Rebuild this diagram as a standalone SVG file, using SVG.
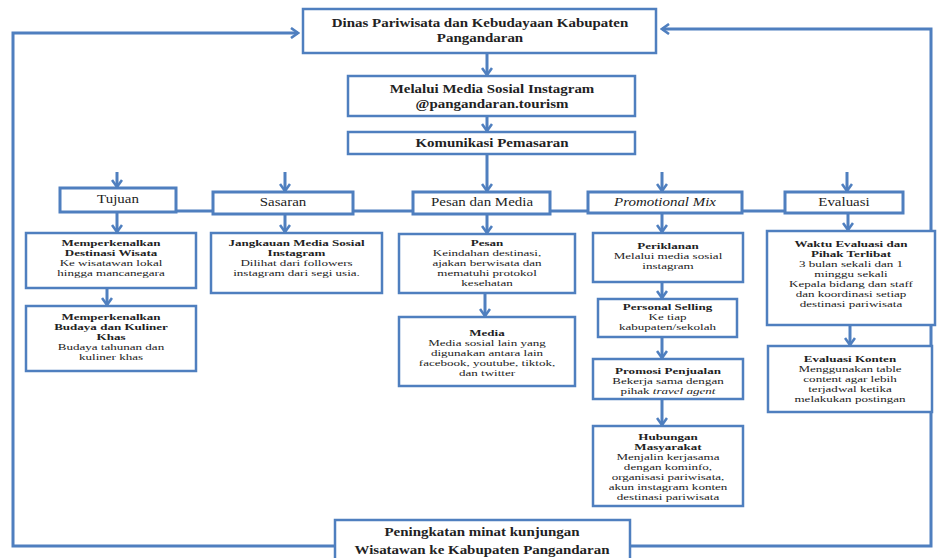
<svg xmlns="http://www.w3.org/2000/svg" width="940" height="558" viewBox="0 0 940 558">
<defs>
<style>
.box{fill:#fff;stroke:#4f7fbf;stroke-width:2.5}
.cat{fill:#fff;stroke:#4f7fbf;stroke-width:3}
.conn{fill:none;stroke:#4f7fbf;stroke-width:3}
text{font-family:"Liberation Serif","Times New Roman",serif;text-anchor:middle;fill:#222}
.b{font-weight:bold}
.i{font-style:italic}
.s9{font-size:9px}
.s11{font-size:11.5px}
</style>
<marker id="arr" markerUnits="userSpaceOnUse" markerWidth="12" markerHeight="12" viewBox="0 0 12 12" refX="10" refY="6" orient="auto">
<path d="M3,1 L10,6 L3,11" fill="none" stroke="#4f7fbf" stroke-width="2.6"/>
</marker>
</defs>
<rect width="940" height="558" fill="#fff"/>

<g id="connectors">
<path class="conn" d="M335,546 H13 V33 H298" marker-end="url(#arr)"/>
<path class="conn" d="M630,546 H931 V29 H662" marker-end="url(#arr)"/>
<path class="conn" d="M487,53 V75" marker-end="url(#arr)"/>
<path class="conn" d="M487,116 V131" marker-end="url(#arr)"/>
<path class="conn" d="M487,154 V191" marker-end="url(#arr)"/>
<path class="conn" d="M117,172 V187" marker-end="url(#arr)"/>
<path class="conn" d="M285,172 V191" marker-end="url(#arr)"/>
<path class="conn" d="M662,172 V191" marker-end="url(#arr)"/>
<path class="conn" d="M847,172 V191" marker-end="url(#arr)"/>
<path class="conn" d="M176,211 H785"/>
<path class="conn" d="M117,212 V232" marker-end="url(#arr)"/>
<path class="conn" d="M285,214 V232" marker-end="url(#arr)"/>
<path class="conn" d="M487,214 V233" marker-end="url(#arr)"/>
<path class="conn" d="M662,213 V232" marker-end="url(#arr)"/>
<path class="conn" d="M848,213 V230" marker-end="url(#arr)"/>
<path class="conn" d="M107,288 V305" marker-end="url(#arr)"/>
<path class="conn" d="M485,293 V316" marker-end="url(#arr)"/>
<path class="conn" d="M662,282 V298" marker-end="url(#arr)"/>
<path class="conn" d="M662,337 V358" marker-end="url(#arr)"/>
<path class="conn" d="M662,399 V425" marker-end="url(#arr)"/>
<path class="conn" d="M850,325 V345" marker-end="url(#arr)"/>
</g>

<g id="dinas">
<rect class="box" x="303" y="9" width="353" height="44"/>
<g transform="translate(480,0) scale(1.3,1)">
<text class="b s11" x="0" y="27">Dinas Pariwisata dan Kebudayaan Kabupaten</text>
<text class="b s11" x="0" y="42">Pangandaran</text>
</g>
</g>

<g id="instagram">
<rect class="box" x="348" y="76" width="287" height="40"/>
<g transform="translate(492,0) scale(1.3,1)">
<text class="b s11" x="0" y="93">Melalui Media Sosial Instagram</text>
<text class="b s11" x="0" y="108">@pangandaran.tourism</text>
</g>
</g>

<g id="komunikasi">
<rect class="box" x="348" y="132" width="287" height="22"/>
<g transform="translate(492,0) scale(1.3,1)">
<text class="b s11" x="0" y="147">Komunikasi Pemasaran</text>
</g>
</g>

<g id="tujuan">
<rect class="cat" x="60" y="188" width="116" height="24"/>
<g transform="translate(118,0) scale(1.3,1)"><text class="s11" x="0" y="203">Tujuan</text></g>
</g>

<g id="sasaran">
<rect class="cat" x="213" y="192" width="140" height="22"/>
<g transform="translate(283,0) scale(1.3,1)"><text class="s11" x="0" y="206">Sasaran</text></g>
</g>

<g id="pesan-dan-media">
<rect class="cat" x="413" y="192" width="137" height="22"/>
<g transform="translate(482,0) scale(1.3,1)"><text class="s11" x="0" y="206">Pesan dan Media</text></g>
</g>

<g id="promotional-mix">
<rect class="cat" x="588" y="192" width="154" height="21"/>
<g transform="translate(665,0) scale(1.3,1)"><text class="s11 i" x="0" y="206">Promotional Mix</text></g>
</g>

<g id="evaluasi">
<rect class="cat" x="785" y="192" width="118" height="21"/>
<g transform="translate(844,0) scale(1.3,1)"><text class="s11" x="0" y="206">Evaluasi</text></g>
</g>

<g id="destinasi">
<rect class="box" x="26" y="233" width="170" height="55"/>
<g transform="translate(111,0) scale(1.45,1)">
<text class="b s9" x="0" y="246">Memperkenalkan</text>
<text class="b s9" x="0" y="256">Destinasi Wisata</text>
<text class="s9" x="0" y="266">Ke wisatawan lokal</text>
<text class="s9" x="0" y="276">hingga mancanegara</text>
</g>
</g>

<g id="budaya">
<rect class="box" x="26" y="306" width="170" height="65"/>
<g transform="translate(111,0) scale(1.45,1)">
<text class="b s9" x="0" y="320">Memperkenalkan</text>
<text class="b s9" x="0" y="330">Budaya dan Kuliner</text>
<text class="b s9" x="0" y="340">Khas</text>
<text class="s9" x="0" y="350">Budaya tahunan dan</text>
<text class="s9" x="0" y="360">kuliner khas</text>
</g>
</g>

<g id="jangkauan">
<rect class="box" x="211" y="233" width="171" height="60"/>
<g transform="translate(296.5,0) scale(1.45,1)">
<text class="b s9" x="0" y="246.5">Jangkauan Media Sosial</text>
<text class="b s9" x="0" y="256.5">Instagram</text>
<text class="s9" x="0" y="266.5">Dilihat dari followers</text>
<text class="s9" x="0" y="276.5">instagram dari segi usia.</text>
</g>
</g>

<g id="pesan">
<rect class="box" x="399" y="234" width="176" height="59"/>
<g transform="translate(487,0) scale(1.45,1)">
<text class="b s9" x="0" y="246.5">Pesan</text>
<text class="s9" x="0" y="256.5">Keindahan destinasi,</text>
<text class="s9" x="0" y="266.5">ajakan berwisata dan</text>
<text class="s9" x="0" y="276.5">mematuhi protokol</text>
<text class="s9" x="0" y="286.5">kesehatan</text>
</g>
</g>

<g id="media">
<rect class="box" x="399" y="317" width="176" height="69"/>
<g transform="translate(487,0) scale(1.45,1)">
<text class="b s9" x="0" y="336">Media</text>
<text class="s9" x="0" y="346">Media sosial lain yang</text>
<text class="s9" x="0" y="356">digunakan antara lain</text>
<text class="s9" x="0" y="366">facebook, youtube, tiktok,</text>
<text class="s9" x="0" y="376">dan twitter</text>
</g>
</g>

<g id="periklanan">
<rect class="box" x="593" y="233" width="150" height="49"/>
<g transform="translate(668,0) scale(1.45,1)">
<text class="b s9" x="0" y="249">Periklanan</text>
<text class="s9" x="0" y="259">Melalui media sosial</text>
<text class="s9" x="0" y="269">instagram</text>
</g>
</g>

<g id="personal-selling">
<rect class="box" x="598" y="299" width="139" height="38"/>
<g transform="translate(667.5,0) scale(1.45,1)">
<text class="b s9" x="0" y="310">Personal Selling</text>
<text class="s9" x="0" y="320">Ke tiap</text>
<text class="s9" x="0" y="330">kabupaten/sekolah</text>
</g>
</g>

<g id="promosi-penjualan">
<rect class="box" x="593" y="359" width="150" height="40"/>
<g transform="translate(668,0) scale(1.45,1)">
<text class="b s9" x="0" y="374">Promosi Penjualan</text>
<text class="s9" x="0" y="384">Bekerja sama dengan</text>
<text class="s9" x="0" y="394">pihak <tspan class="i">travel agent</tspan></text>
</g>
</g>

<g id="hubungan-masyarakat">
<rect class="box" x="593" y="426" width="150" height="80"/>
<g transform="translate(668,0) scale(1.45,1)">
<text class="b s9" x="0" y="440">Hubungan</text>
<text class="b s9" x="0" y="450">Masyarakat</text>
<text class="s9" x="0" y="460">Menjalin kerjasama</text>
<text class="s9" x="0" y="470">dengan kominfo,</text>
<text class="s9" x="0" y="480">organisasi pariwisata,</text>
<text class="s9" x="0" y="490">akun instagram konten</text>
<text class="s9" x="0" y="500">destinasi pariwisata</text>
</g>
</g>

<g id="waktu-evaluasi">
<rect class="box" x="767" y="231" width="168" height="94"/>
<g transform="translate(851,0) scale(1.45,1)">
<text class="b s9" x="0" y="247">Waktu Evaluasi dan</text>
<text class="b s9" x="0" y="257">Pihak Terlibat</text>
<text class="s9" x="0" y="267">3 bulan sekali dan 1</text>
<text class="s9" x="0" y="277">minggu sekali</text>
<text class="s9" x="0" y="287">Kepala bidang dan staff</text>
<text class="s9" x="0" y="297">dan koordinasi setiap</text>
<text class="s9" x="0" y="307">destinasi pariwisata</text>
</g>
</g>

<g id="evaluasi-konten">
<rect class="box" x="768" y="346" width="164" height="66"/>
<g transform="translate(850,0) scale(1.45,1)">
<text class="b s9" x="0" y="362">Evaluasi Konten</text>
<text class="s9" x="0" y="372">Menggunakan table</text>
<text class="s9" x="0" y="382">content agar lebih</text>
<text class="s9" x="0" y="392">terjadwal ketika</text>
<text class="s9" x="0" y="402">melakukan postingan</text>
</g>
</g>

<g id="peningkatan">
<rect class="box" x="335" y="520" width="295" height="46"/>
<g transform="translate(482,0) scale(1.3,1)">
<text class="b s11" x="0" y="536">Peningkatan minat kunjungan</text>
<text class="b s11" x="0" y="554">Wisatawan ke Kabupaten Pangandaran</text>
</g>
</g>
</svg>
